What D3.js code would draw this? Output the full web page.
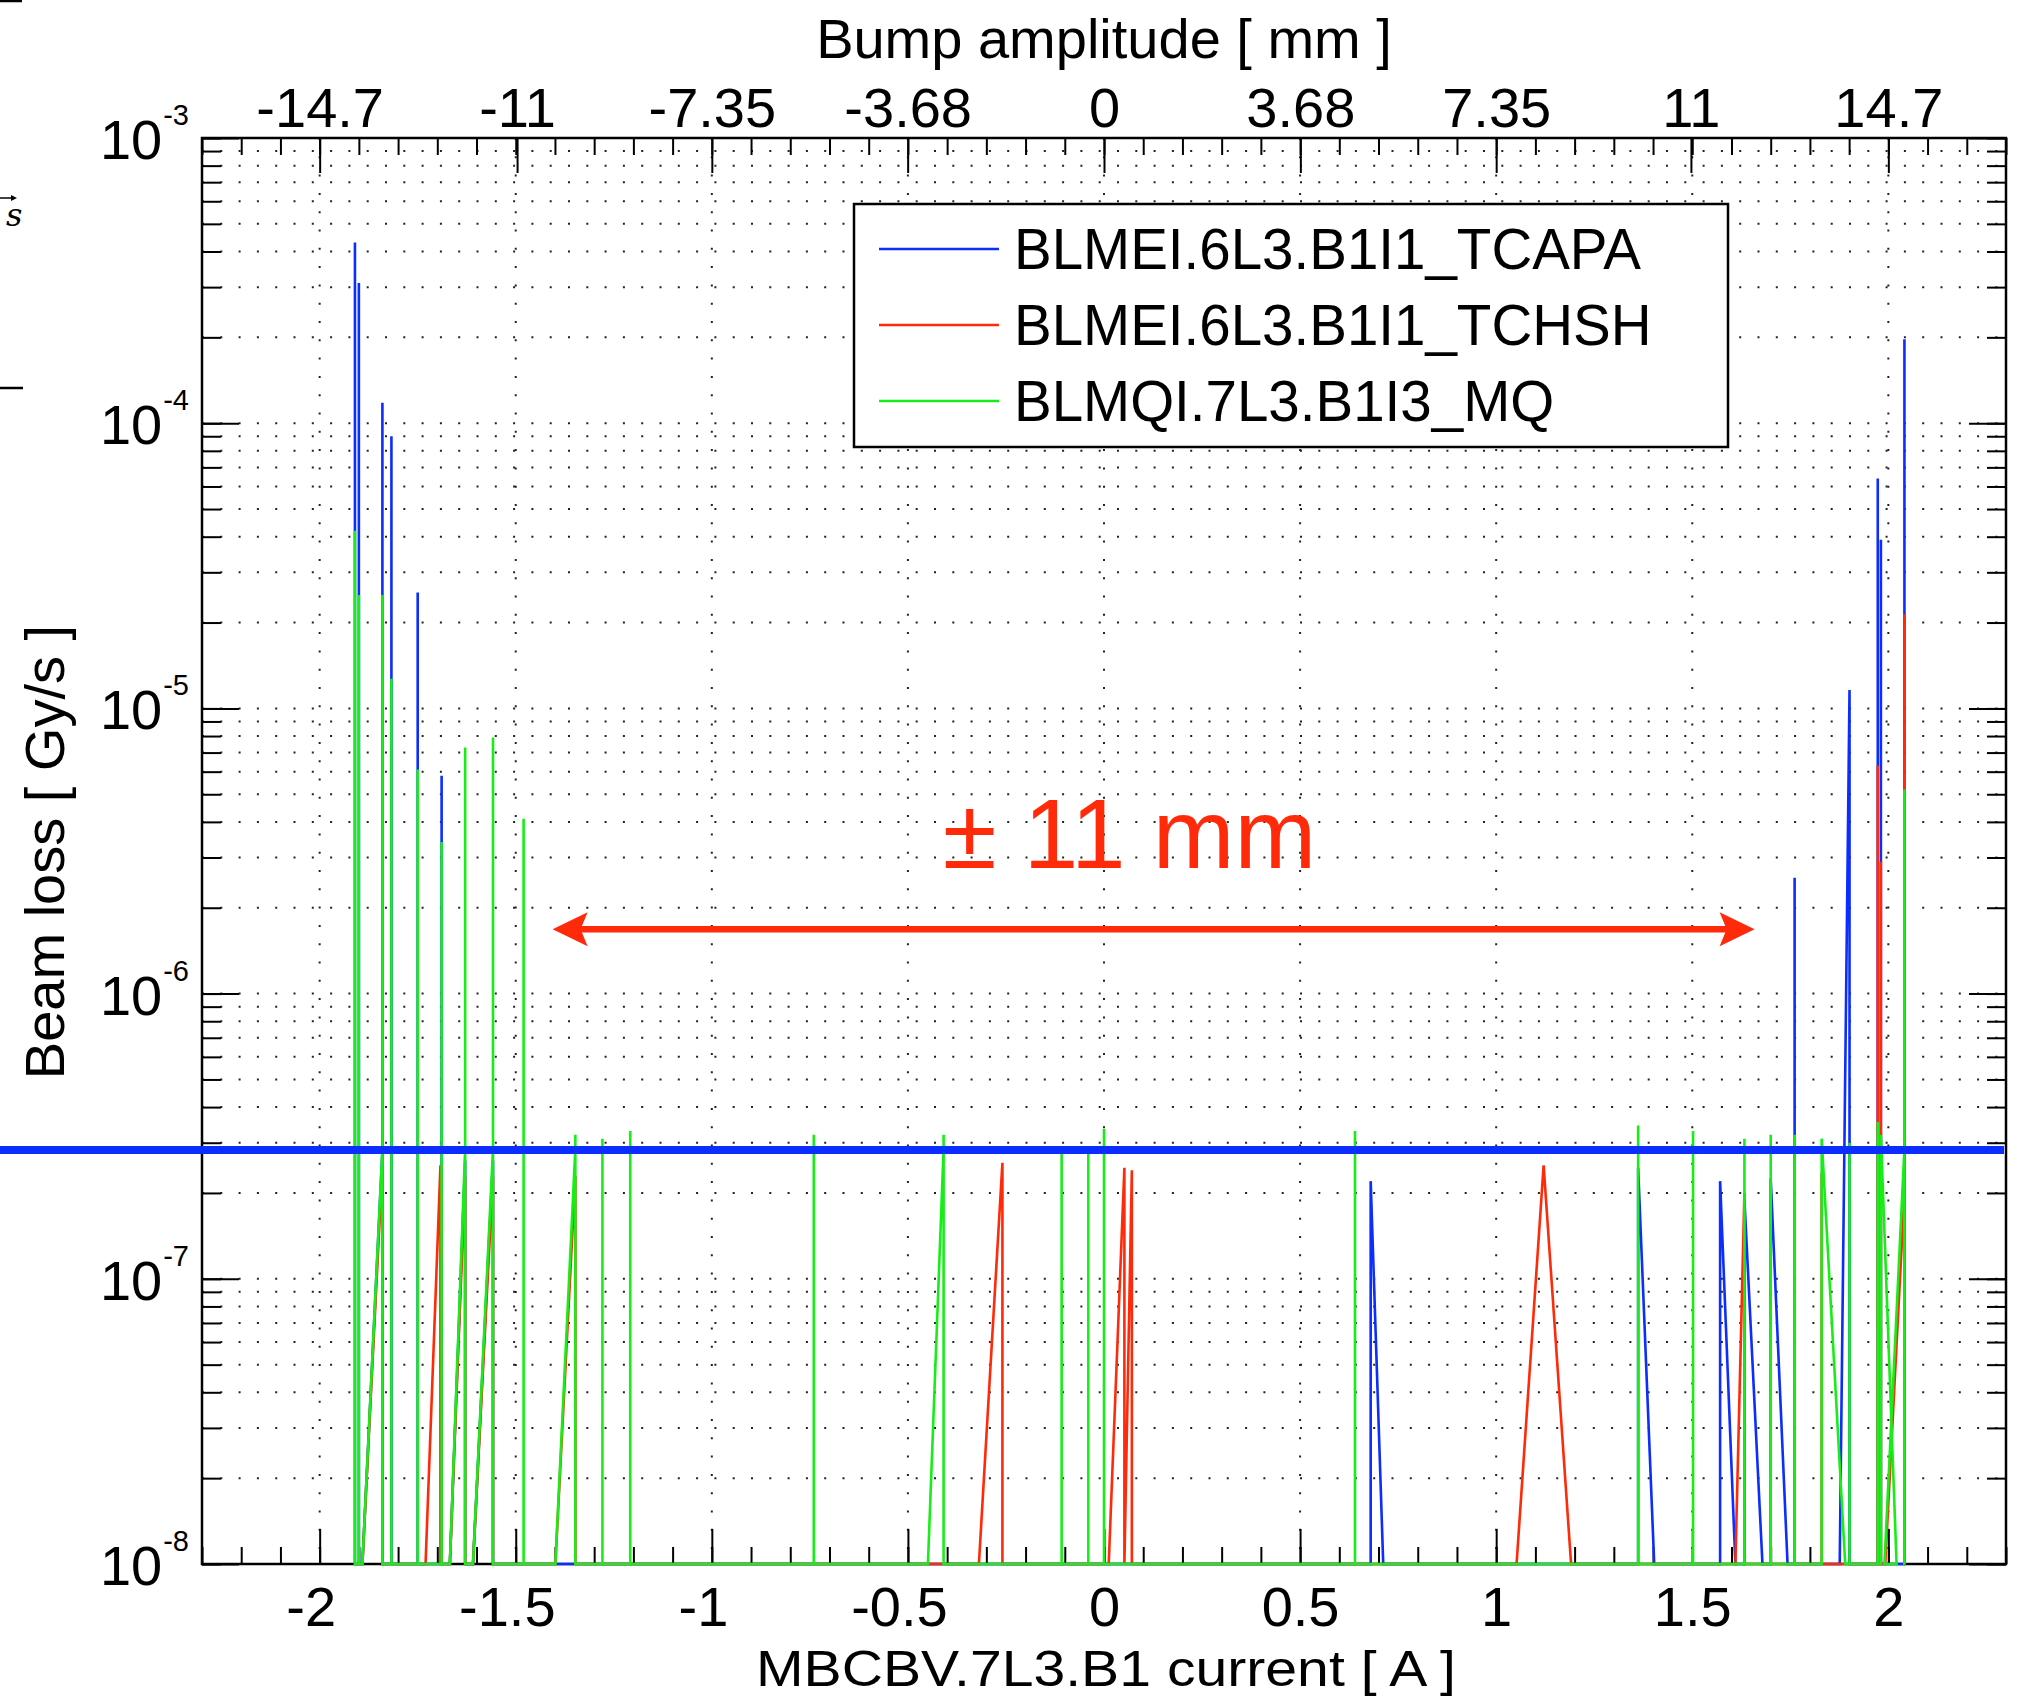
<!DOCTYPE html>
<html>
<head>
<meta charset="utf-8">
<title>Beam loss vs MBCBV.7L3.B1 current</title>
<script src="https://d3js.org/d3.v7.min.js"></script>
<style>
    body { margin: 0; background: #fff; }
    svg { display: block; font-family: "Liberation Sans", Arial, Helvetica, sans-serif; }
</style>
</head>
<body>
<svg id="chart" width="2025" height="1699"></svg>
<script>
// [current (A), beam loss (Gy/s)] -- 1e-8 means the reading sits at (or under) the axis floor
const tcapa = [
    [-1.910, 1e-8], [-1.910, 4.3e-4], [-1.910, 1e-8],
    [-1.900, 1e-8], [-1.900, 3.1e-4], [-1.900, 1e-8],
    [-1.891, 1e-8], [-1.840, 2.8e-7], [-1.840, 1.18e-4], [-1.840, 1e-8],
    [-1.817, 1e-8], [-1.817, 9.0e-5], [-1.817, 1e-8],
    [-1.750, 1e-8], [-1.750, 2.55e-5], [-1.750, 1e-8],
    [-1.689, 1e-8], [-1.689, 5.8e-6], [-1.689, 1e-8],
    [-1.668, 1e-8], [-1.629, 2.6e-7], [-1.629, 1e-8],
    [-1.609, 1e-8], [-1.558, 2.6e-7], [-1.558, 1e-8],
    [0.680, 1e-8], [0.680, 2.2e-7], [0.712, 1e-8],
    [1.362, 1e-8], [1.362, 2.45e-7], [1.403, 1e-8],
    [1.571, 1e-8], [1.571, 2.2e-7], [1.610, 1e-8],
    [1.633, 1e-8], [1.633, 1.9e-7], [1.679, 1e-8],
    [1.700, 1e-8], [1.700, 2.25e-7], [1.743, 1e-8],
    [1.761, 1e-8], [1.761, 2.55e-6], [1.761, 1e-8],
    [1.876, 1e-8], [1.901, 1.16e-5], [1.901, 1e-8],
    [1.973, 1e-8], [1.973, 6.4e-5], [1.973, 1e-8],
    [1.981, 1e-8], [1.981, 3.9e-5], [1.981, 1e-8],
    [2.041, 1e-8], [2.041, 1.97e-4], [2.041, 1e-8], [2.043, 1e-8]
];

const tchsh = [
    [-1.910, 1e-8], [-1.891, 1e-8], [-1.840, 2.5e-7], [-1.840, 1e-8],
    [-1.730, 1e-8], [-1.692, 2.5e-7], [-1.692, 1e-8],
    [-1.668, 1e-8], [-1.629, 2.3e-7], [-1.629, 1e-8],
    [-1.609, 1e-8], [-1.558, 2.3e-7], [-1.558, 1e-8],
    [-1.399, 1e-8], [-1.348, 2.3e-7], [-1.348, 1e-8],
    [-0.319, 1e-8], [-0.259, 2.55e-7], [-0.259, 1e-8],
    [0.012, 1e-8], [0.052, 2.45e-7], [0.052, 1e-8], [0.071, 2.4e-7], [0.071, 1e-8],
    [1.052, 1e-8], [1.121, 2.5e-7], [1.191, 1e-8],
    [1.610, 1e-8], [1.633, 2.0e-7], [1.633, 1e-8],
    [1.830, 1e-8], [1.830, 2.35e-7], [1.830, 1e-8],
    [1.973, 1e-8], [1.973, 6.3e-6], [1.973, 1e-8],
    [1.981, 1e-8], [1.981, 2.9e-6], [1.981, 1e-8],
    [1.992, 1e-8], [2.041, 2.0e-7], [2.041, 2.14e-5], [2.041, 1e-8], [2.043, 1e-8]
];

const mq = [
    [-1.910, 1e-8], [-1.910, 4.2e-5], [-1.910, 1e-8],
    [-1.900, 1e-8], [-1.900, 2.5e-5], [-1.900, 1e-8],
    [-1.891, 1e-8], [-1.840, 2.85e-7], [-1.840, 2.5e-5], [-1.840, 1e-8],
    [-1.817, 1e-8], [-1.817, 1.27e-5], [-1.817, 1e-8],
    [-1.750, 1e-8], [-1.750, 6.1e-6], [-1.750, 1e-8],
    [-1.689, 1e-8], [-1.689, 3.4e-6], [-1.689, 1e-8],
    [-1.668, 1e-8], [-1.629, 2.85e-7], [-1.629, 7.3e-6], [-1.629, 1e-8],
    [-1.609, 1e-8], [-1.558, 2.85e-7], [-1.558, 7.9e-6], [-1.558, 1e-8],
    [-1.480, 1e-8], [-1.480, 4.1e-6], [-1.480, 1e-8],
    [-1.399, 1e-8], [-1.348, 2.85e-7], [-1.348, 3.2e-7], [-1.348, 1e-8],
    [-1.279, 1e-8], [-1.279, 3.1e-7], [-1.279, 1e-8],
    [-1.208, 1e-8], [-1.208, 3.3e-7], [-1.208, 1e-8],
    [-0.740, 1e-8], [-0.740, 3.2e-7], [-0.740, 1e-8],
    [-0.449, 1e-8], [-0.409, 2.85e-7], [-0.409, 3.2e-7], [-0.409, 1e-8],
    [-0.108, 1e-8], [-0.108, 2.9e-7], [-0.108, 1e-8],
    [-0.040, 1e-8], [-0.040, 2.8e-7], [-0.040, 1e-8],
    [0.000, 1e-8], [0.000, 3.35e-7], [0.000, 1e-8],
    [0.640, 1e-8], [0.640, 3.3e-7], [0.640, 1e-8],
    [1.362, 1e-8], [1.362, 3.45e-7], [1.362, 1e-8],
    [1.502, 1e-8], [1.502, 3.3e-7], [1.502, 1e-8],
    [1.633, 1e-8], [1.633, 3.1e-7], [1.633, 1e-8],
    [1.700, 1e-8], [1.700, 3.2e-7], [1.700, 1e-8],
    [1.761, 1e-8], [1.761, 3.2e-7], [1.761, 1e-8],
    [1.830, 1e-8], [1.830, 3.1e-7], [1.890, 1e-8],
    [1.901, 1e-8], [1.901, 3.0e-7], [1.901, 1e-8],
    [1.973, 1e-8], [1.973, 3.55e-7], [1.973, 1e-8],
    [1.981, 1e-8], [1.981, 3.2e-7], [2.021, 1e-8],
    [1.990, 1e-8], [2.041, 2.85e-7], [2.041, 5.2e-6], [2.041, 1e-8], [2.043, 1e-8]
];

const seriesNames = ["BLMEI.6L3.B1I1_TCAPA", "BLMEI.6L3.B1I1_TCHSH", "BLMQI.7L3.B1I3_MQ"];
const seriesColors = ["#0b2dff", "#ff2a0a", "#17ee17"];

const currentTicks = [-2, -1.5, -1, -0.5, 0, 0.5, 1, 1.5, 2];
const bumpTicks = [-14.7, -11, -7.35, -3.68, 0, 3.68, 7.35, 11, 14.7];
const mmPerAmp = 7.35;
const lossDecades = [1e-8, 1e-7, 1e-6, 1e-5, 1e-4, 1e-3];

const thresholdLoss = 2.83e-7;           // heavy blue line
const arrowCurrents = [-1.406, 1.659];   // red double arrow
const arrowLoss = 1.68e-6;
const annotText = "\u00b1 11 mm";
const annotAt = [0.065, 2.76e-6];

const svg = d3.select("#chart");
const W = +svg.attr("width"), H = +svg.attr("height");
const plot = { left: 202, right: 2006, top: 138, bottom: 1564 };

svg.append("rect").attr("width", W).attr("height", H).attr("fill", "#fff");

const x = d3.scaleLinear().domain([-2.3, 2.3]).range([plot.left, plot.right]);
const xTop = d3.scaleLinear().domain([-2.3 * mmPerAmp, 2.3 * mmPerAmp]).range([plot.left, plot.right]);
const y = d3.scaleLog().domain([1e-8, 1e-3]).range([plot.bottom, plot.top]);

const minorX = d3.range(-23, 24).map(i => i / 10);
const minorY = y.ticks();

// dotted grid
const grid = svg.append("g")
    .attr("stroke", "#222")
    .attr("stroke-width", 2)
    .attr("stroke-dasharray", "2,16.3");
grid.selectAll("line.h").data(minorY).join("line")
    .attr("class", "h")
    .attr("x1", plot.left).attr("x2", plot.right)
    .attr("y1", d => y(d)).attr("y2", d => y(d));
grid.selectAll("line.v").data(currentTicks).join("line")
    .attr("class", "v")
    .attr("x1", d => x(d)).attr("x2", d => x(d))
    .attr("y1", plot.top).attr("y2", plot.bottom);

// axes, ticks inward
function styleAxis(g) {
    g.select(".domain").remove();
    g.selectAll(".tick line").attr("stroke", "#000").attr("stroke-width", 2);
    g.selectAll("text").attr("font-size", 56).attr("fill", "#000").attr("font-family", null);
}

svg.append("g").attr("transform", `translate(0,${plot.bottom})`)
    .call(d3.axisBottom(x).tickValues(minorX).tickSize(-17).tickFormat(""))
    .call(styleAxis);
svg.append("g").attr("transform", `translate(0,${plot.bottom})`)
    .call(d3.axisBottom(x).tickValues(currentTicks).tickSize(-35).tickPadding(22).tickFormat(d => String(d)))
    .call(styleAxis)
    .call(g => g.selectAll("text").attr("dx", d => d < 0 ? "-0.16em" : 0));

svg.append("g").attr("transform", `translate(0,${plot.top})`)
    .call(d3.axisTop(x).tickValues(minorX).tickSize(-17).tickFormat(""))
    .call(styleAxis);
svg.append("g").attr("transform", `translate(0,${plot.top})`)
    .call(d3.axisTop(xTop).tickValues(bumpTicks).tickSize(-35).tickPadding(11).tickFormat(d => String(d)))
    .call(styleAxis);

svg.append("g").attr("transform", `translate(${plot.left},0)`)
    .call(d3.axisLeft(y).tickValues(minorY).tickSize(-19).tickFormat(""))
    .call(styleAxis);
svg.append("g").attr("transform", `translate(${plot.left},0)`)
    .call(d3.axisLeft(y).tickValues(lossDecades).tickSize(-37).tickFormat(""))
    .call(styleAxis);
svg.append("g").attr("transform", `translate(${plot.right},0)`)
    .call(d3.axisRight(y).tickValues(minorY).tickSize(-19).tickFormat(""))
    .call(styleAxis);
svg.append("g").attr("transform", `translate(${plot.right},0)`)
    .call(d3.axisRight(y).tickValues(lossDecades).tickSize(-37).tickFormat(""))
    .call(styleAxis);

// y labels as 10^n
const yLab = svg.append("g").selectAll("text").data(lossDecades).join("text")
    .attr("x", plot.left - 13)
    .attr("y", d => y(d) + 21)
    .attr("text-anchor", "end")
    .attr("font-size", 56);
yLab.append("tspan").text("10");
yLab.append("tspan").attr("font-size", 29).attr("dy", -34).attr("dx", 1)
    .text(d => String(Math.round(Math.log10(d))));

svg.append("rect")
    .attr("x", plot.left).attr("y", plot.top)
    .attr("width", plot.right - plot.left).attr("height", plot.bottom - plot.top)
    .attr("fill", "none").attr("stroke", "#000").attr("stroke-width", 2.5);

// axis titles
svg.append("text").attr("x", 1106).attr("y", 1686).attr("text-anchor", "middle")
    .attr("font-size", 50).attr("textLength", 700).attr("lengthAdjust", "spacingAndGlyphs")
    .text("MBCBV.7L3.B1 current [ A ]");
svg.append("text").attr("x", 1104).attr("y", 58).attr("text-anchor", "middle")
    .attr("font-size", 56).text("Bump amplitude [ mm ]");
svg.append("text").attr("transform", "translate(64,852) rotate(-90)").attr("text-anchor", "middle")
    .attr("font-size", 56).text("Beam loss [ Gy/s ]");

// data lines
svg.append("clipPath").attr("id", "clip").append("rect")
    .attr("x", plot.left).attr("y", plot.top - 2)
    .attr("width", plot.right - plot.left).attr("height", plot.bottom - plot.top + 5);

const line = d3.line().x(d => x(d[0])).y(d => y(d[1]));
svg.append("g").attr("clip-path", "url(#clip)")
    .selectAll("path").data([tcapa, tchsh, mq]).join("path")
    .attr("d", line)
    .attr("fill", "none")
    .attr("stroke", (d, i) => seriesColors[i])
    .attr("stroke-width", 2.6)
    .attr("stroke-linejoin", "miter");

// legend
const legend = svg.append("g");
legend.append("rect").attr("x", 854).attr("y", 204).attr("width", 874).attr("height", 243)
    .attr("fill", "#fff").attr("stroke", "#000").attr("stroke-width", 2.5);
const item = legend.selectAll("g").data(seriesNames).join("g")
    .attr("transform", (d, i) => `translate(0,${249 + i * 76})`);
item.append("line").attr("x1", 879).attr("x2", 999)
    .attr("stroke", (d, i) => seriesColors[i]).attr("stroke-width", 2.5);
item.append("text").attr("x", 1014).attr("y", 20).attr("font-size", 56.5).text(d => d);

// threshold line, runs out to the figure edge
svg.append("line")
    .attr("x1", 0).attr("x2", plot.right - 2)
    .attr("y1", y(thresholdLoss)).attr("y2", y(thresholdLoss))
    .attr("stroke", "#0b2dff").attr("stroke-width", 8);

// red annotation
const red = "#ff2a0a";
const ay = y(arrowLoss), ax0 = x(arrowCurrents[0]), ax1 = x(arrowCurrents[1]);
svg.append("line").attr("x1", ax0 + 20).attr("x2", ax1 - 20).attr("y1", ay).attr("y2", ay)
    .attr("stroke", red).attr("stroke-width", 6.5);
const head = (tip, dir) => `M${tip},${ay} L${tip + dir * 35},${ay - 17} L${tip + dir * 28},${ay} L${tip + dir * 35},${ay + 17} Z`;
svg.append("path").attr("d", head(ax0, 1)).attr("fill", red);
svg.append("path").attr("d", head(ax1, -1)).attr("fill", red);
svg.append("text").attr("x", x(annotAt[0])).attr("y", y(annotAt[1]))
    .attr("text-anchor", "middle").attr("font-size", 98).attr("fill", red).text(annotText);

// bits of a neighbouring figure at the left edge
svg.append("line").attr("x1", 0).attr("x2", 22).attr("y1", 1).attr("y2", 1).attr("stroke", "#000").attr("stroke-width", 2.5);
svg.append("line").attr("x1", 0).attr("x2", 23).attr("y1", 388).attr("y2", 388).attr("stroke", "#000").attr("stroke-width", 2.5);
svg.append("text").attr("x", 6).attr("y", 226).attr("font-size", 32)
    .attr("font-family", "DejaVu Serif, serif").attr("font-style", "italic").text("s");
svg.append("line").attr("x1", 0).attr("x2", 13).attr("y1", 198).attr("y2", 198).attr("stroke", "#000").attr("stroke-width", 1.5);
svg.append("path").attr("d", "M17,198 L11,195 L11,201 Z").attr("fill", "#000");
</script>
</body>
</html>
